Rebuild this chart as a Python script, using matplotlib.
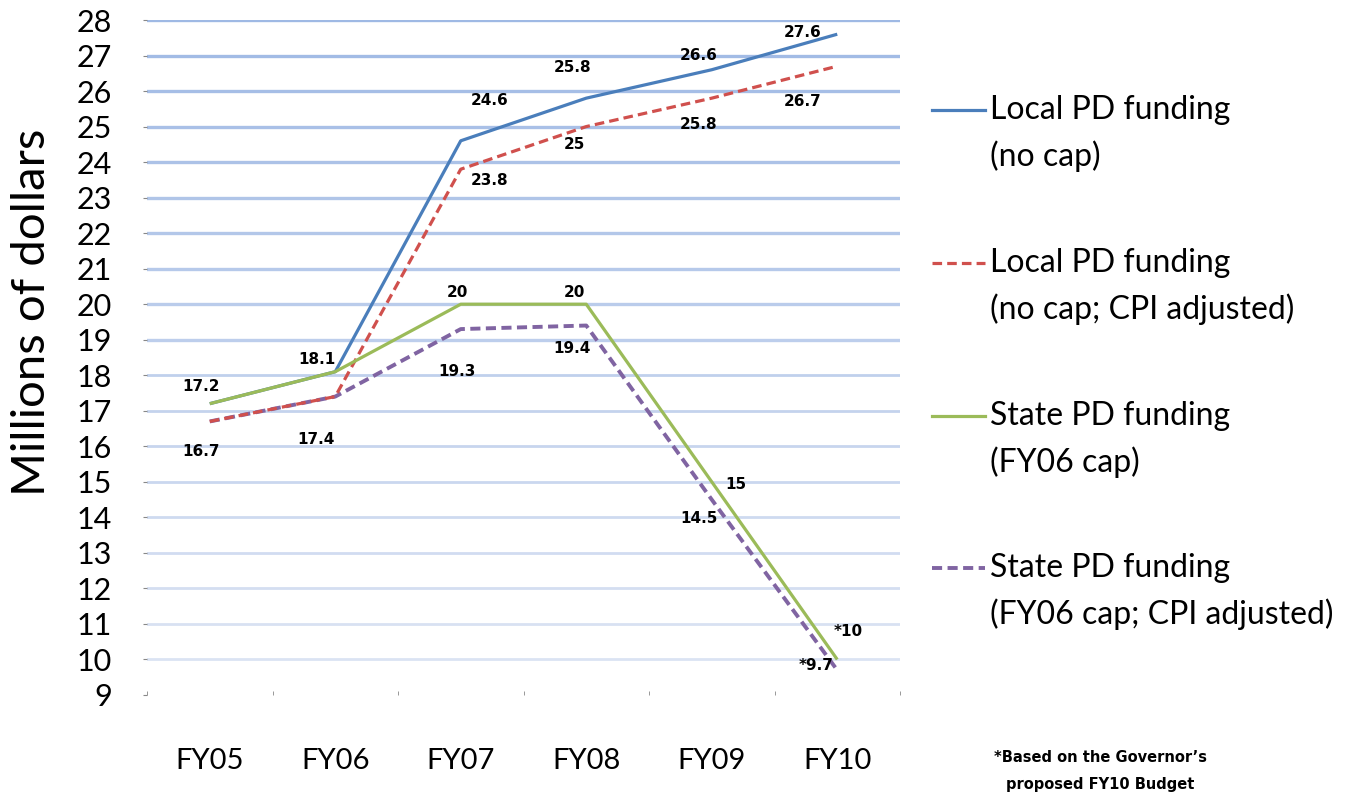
import numpy as np
import matplotlib
matplotlib.use("Agg")
import matplotlib.pyplot as plt
from matplotlib.lines import Line2D

plt.rcParams['font.family'] = ['Lato', 'DejaVu Sans']

# data
years = ['FY05', 'FY06', 'FY07', 'FY08', 'FY09', 'FY10']
local_nocap = [17.2, 18.1, 24.6, 25.8, 26.6, 27.6]
local_cpi = [16.7, 17.4, 23.8, 25.0, 25.8, 26.7]
state_cap = [17.2, 18.1, 20.0, 20.0, 15.0, 10.0]
state_cpi = [16.7, 17.4, 19.3, 19.4, 14.5, 9.7]

# label texts per point (None = hidden under another series)
local_nocap_lbl = [None, None, '24.6', '25.8', '26.6', '27.6']
local_cpi_lbl = [None, None, '23.8', '25', '25.8', '26.7']
state_cap_lbl = ['17.2', '18.1', '20', '20', '15', '*10']
state_cpi_lbl = ['16.7', '17.4', '19.3', '19.4', '14.5', '*9.7']

# label offsets in pixels (dx right, dy up)
local_nocap_off = [None, None, (29, 40), (-14, 31), (-13, 14), (-35, 2)]
local_cpi_off = [None, None, (29, -11), (-12, -18), (-13, -26), (-35, -35)]
state_cap_off = [(-9, 17), (-18, 12), (-3, 12), (-12, 12), (24, -3), (11, 28)]
state_cpi_off = [(-9, -30), (-19, -43), (-4, -42), (-14, -23), (-13, -19), (-21, 5)]

series = [
    ('Local PD funding', '(no cap)', local_nocap, local_nocap_lbl, local_nocap_off, '#4a7ebb', '-', 2.3),
    ('Local PD funding', '(no cap; CPI adjusted)', local_cpi, local_cpi_lbl, local_cpi_off, '#d0504d', (0, (3, 1.6)), 2.3),
    ('State PD funding', '(FY06 cap)', state_cap, state_cap_lbl, state_cap_off, '#9bbb59', '-', 2.3),
    ('State PD funding', '(FY06 cap; CPI adjusted)', state_cpi, state_cpi_lbl, state_cpi_off, '#8064a2', (0, (2.6, 1.4)), 2.8),
]

W, H = 1368, 795
fig = plt.figure(figsize=(W / 100, H / 100), dpi=100)
ax = fig.add_axes([147 / W, 1 - 695 / H, 753 / W, 675 / H])

x = np.arange(len(years))
# draw in z-order: purple, red, blue, green on top
order = [3, 1, 0, 2]
for i in order:
    name1, name2, vals, lbls, offs, col, ls, lw = series[i]
    ax.plot(x, vals, color=col, linestyle=ls, linewidth=lw, zorder=3 + order.index(i),
            solid_capstyle='butt', dash_capstyle='butt')

for name1, name2, vals, lbls, offs, col, ls, lw in series:
    for xi, v, t, o in zip(x, vals, lbls, offs):
        if t is None:
            continue
        ax.annotate(t, (xi, v), xytext=o, textcoords='offset pixels',
                    ha='center', va='center', fontsize=11, fontweight='bold',
                    family='DejaVu Sans', color='black', zorder=10)

ax.set_xlim(-0.5, len(years) - 0.5)
ax.set_ylim(9, 28)
ax.set_yticks(np.arange(9, 29, 1))
ax.set_xticks(x)
ax.set_xticklabels(years)
ax.set_xticks(np.arange(-0.5, len(years), 1), minor=True)

for s in ax.spines.values():
    s.set_visible(False)

ax.tick_params(axis='y', length=3, color='#888888', pad=22, labelsize=22)
ax.tick_params(axis='x', which='major', length=0, pad=38, labelsize=21)
ax.tick_params(axis='x', which='minor', length=3, color='#888888', direction='in')

# horizontal gridlines, slightly darker towards the top
ticks = np.arange(10, 29, 1)
c_top = np.array(matplotlib.colors.to_rgb('#9fb9e4'))
c_bot = np.array(matplotlib.colors.to_rgb('#dbe3f3'))
for t in ticks:
    f = (t - 10) / 18.0
    c = c_bot + (c_top - c_bot) * f
    ax.axhline(t, color=c, linewidth=2.4 if t >= 19 else 2.0, zorder=1)

fig.text(32 / W, 1 - 312 / H, 'Millions of dollars', rotation=90,
         ha='center', va='center', fontsize=34)

# legend
leg_y = [110, 263, 416, 568]
for (name1, name2, vals, lbls, offs, col, ls, lw), yy in zip(series, leg_y):
    fig.add_artist(Line2D([932 / W, 985 / W], [1 - yy / H, 1 - yy / H],
                          color=col, linestyle=ls, linewidth=lw,
                          transform=fig.transFigure))
    fig.text(990 / W, 1 - yy / H, name1, ha='left', va='center', fontsize=23)
    fig.text(990 / W, 1 - (yy + 46) / H, name2, ha='left', va='center', fontsize=23)

fig.text(1100 / W, 1 - 757 / H, '*Based on the Governor\u2019s', ha='center', va='center',
         fontsize=10.5, fontweight='bold', family='DejaVu Sans')
fig.text(1100 / W, 1 - 785 / H, 'proposed FY10 Budget', ha='center', va='center',
         fontsize=10.5, fontweight='bold', family='DejaVu Sans')

fig.savefig('out.png', dpi=100, facecolor='white')
